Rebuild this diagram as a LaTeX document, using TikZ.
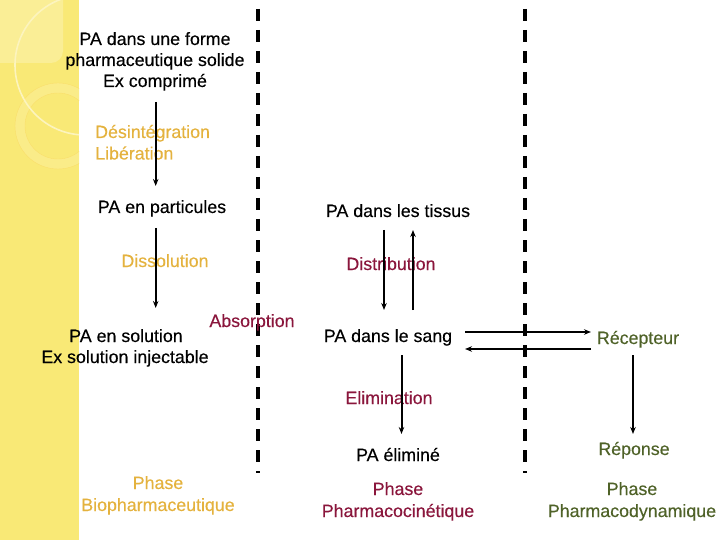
\documentclass[tikz,border=0pt]{standalone}
\usepackage{fontspec}
\setmainfont{Liberation Sans}[FakeBold=0.35]
\usetikzlibrary{arrows.meta}
\definecolor{orng}{RGB}{228,178,62}
\definecolor{dred}{RGB}{138,22,60}
\definecolor{dgreen}{RGB}{79,98,40}
\definecolor{stripY}{RGB}{249,233,118}
\definecolor{stripL}{RGB}{250,238,150}
\definecolor{arcC}{RGB}{252,244,190}
\begin{document}
\begin{tikzpicture}[x=1pt,y=-1pt,
  txt/.style={font=\fontsize{17.8}{21}\selectfont, inner sep=0pt, anchor=base},
  bio/.style={txt, text=orng},
  pk/.style={txt, text=dred},
  pd/.style={txt, text=dgreen},
  arr/.style={line width=2pt, -{Stealth[length=7pt,width=5.5pt]}},
  sep/.style={line width=4pt, dash pattern=on 12pt off 9pt}]
\useasboundingbox (0,0) rectangle (720,540);
% decorative strip
\fill[stripY] (0,0) rectangle (79,540);
\begin{scope}
  \clip (0,0) rectangle (79,540);
  \fill[stripL] (0,0) -- (63,0) -- (63,50) to[rounded corners=12pt] (63,63) -- (0,63) -- cycle;
  \fill[stripL!60!stripY, even odd rule] (58,126) circle[radius=43] (58,126) circle[radius=33];
  \draw[stripY!90!orange, line width=0.4pt] (58,126) circle[radius=43] (58,126) circle[radius=33];
  \draw[arcC, line width=1.6pt] (85,65) circle[radius=70];
\end{scope}
% separators
\draw[sep] (257.5,9) -- (257.5,473);
\draw[sep] (525,9) -- (525,473);
% biopharmaceutical column
\node[txt] (f1) at (155,45) {PA dans une forme};
\node[txt] (f2) at (155,66) {pharmaceutique solide};
\node[txt] (f3) at (155,87) {Ex comprimé};
\node[bio, anchor=base west] (des) at (95,138) {Désintégration};
\node[bio, anchor=base west] (lib) at (95,159.5) {Libération};
\node[txt] (part) at (162,213) {PA en particules};
\node[bio] (diss) at (165,267) {Dissolution};
\node[pk] (abs) at (252,327) {Absorption};
\node[txt] (sol1) at (126,342) {PA en solution};
\node[txt] (sol2) at (125,363) {Ex solution injectable};
\node[bio] (ph1a) at (158,489) {Phase};
\node[bio] (ph1b) at (158,511) {Biopharmaceutique};
% pharmacokinetic column
\node[txt] (tis) at (398,217) {PA dans les tissus};
\node[pk] (dist) at (391,270) {Distribution};
\node[txt] (sang) at (388,342) {PA dans le sang};
\node[pk] (elim) at (389,404) {Elimination};
\node[txt] (elim2) at (398,461) {PA éliminé};
\node[pk] (ph2a) at (398,495) {Phase};
\node[pk] (ph2b) at (398,517) {Pharmacocinétique};
% pharmacodynamic column
\node[pd] (rec) at (638,344) {Récepteur};
\node[pd] (rep) at (634,455) {Réponse};
\node[pd] (ph3a) at (632,495) {Phase};
\node[pd] (ph3b) at (632,517) {Pharmacodynamique};
% arrow end points
\coordinate (a1s) at (155.7,102); \coordinate (a1e) at (155.7,186);
\coordinate (a2s) at (155.7,228); \coordinate (a2e) at (155.7,308);
\coordinate (d1s) at (384,230);   \coordinate (d1e) at (384,310);
\coordinate (d2s) at (413,310);   \coordinate (d2e) at (413,230);
\coordinate (r1s) at (465,332);   \coordinate (r1e) at (591,332);
\coordinate (r2s) at (591,349);   \coordinate (r2e) at (465,349);
\coordinate (e1s) at (401.5,355); \coordinate (e1e) at (401.5,434);
\coordinate (p1s) at (633,355);   \coordinate (p1e) at (633,434);
\draw[arr] (a1s) -- (a1e);
\draw[arr] (a2s) -- (a2e);
\draw[arr] (d1s) -- (d1e);
\draw[arr] (d2s) -- (d2e);
\draw[arr] (r1s) -- (r1e);
\draw[arr] (r2s) -- (r2e);
\draw[arr] (e1s) -- (e1e);
\draw[arr] (p1s) -- (p1e);
\end{tikzpicture}
\end{document}
